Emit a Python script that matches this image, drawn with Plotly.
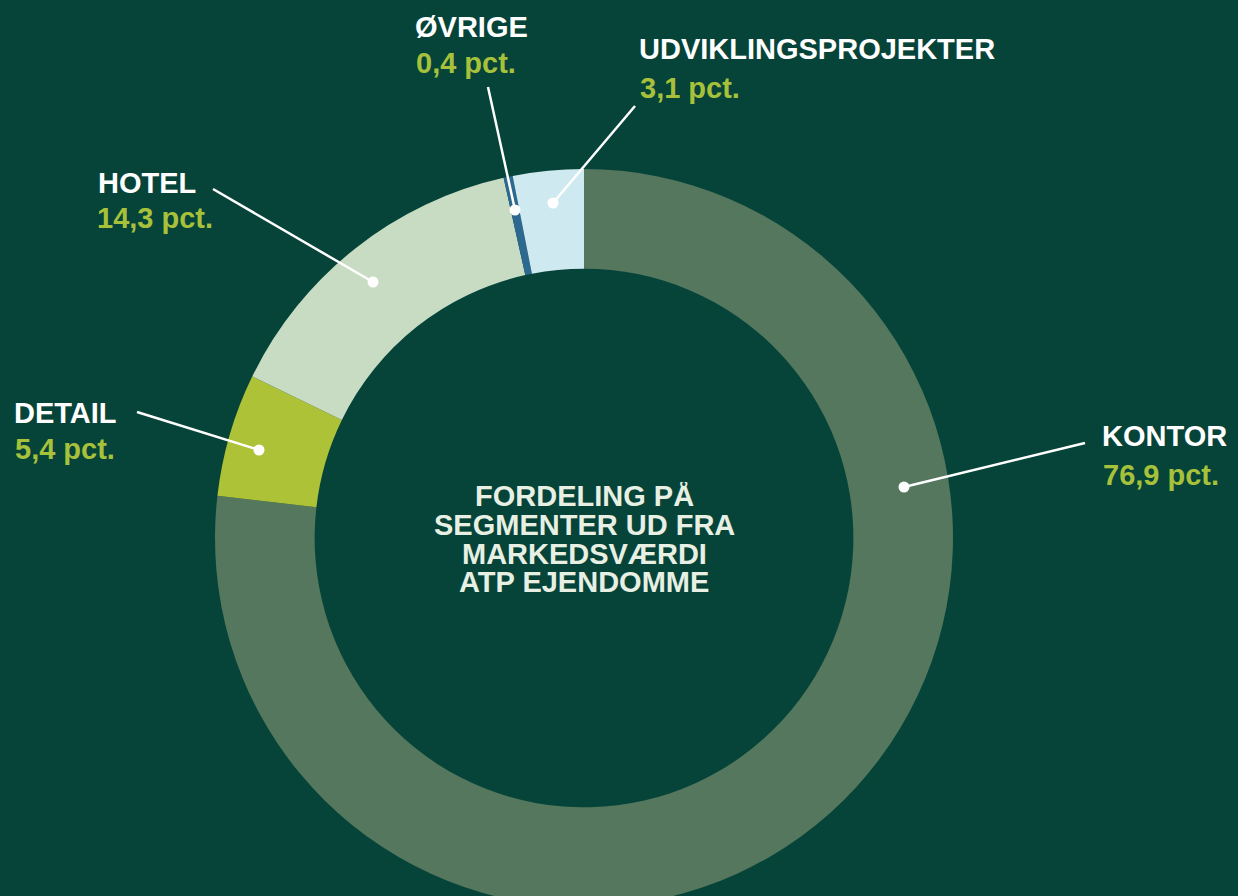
import plotly.graph_objects as go

# ---- data ----
segments = ["KONTOR", "DETAIL", "HOTEL", "ØVRIGE", "UDVIKLINGSPROJEKTER"]
shares = [76.9, 5.4, 14.3, 0.4, 3.1]
share_labels = ["76,9 pct.", "5,4 pct.", "14,3 pct.", "0,4 pct.", "3,1 pct."]
center_lines = ["FORDELING PÅ", "SEGMENTER UD FRA", "MARKEDSVÆRDI", "ATP EJENDOMME"]

# ---- style ----
BG = "#06443a"
colors = ["#54775d", "#adc237", "#c7dcc3", "#2d6890", "#cfe9f0"]
NAME_COL = "#ffffff"
VAL_COL = "#a7c13a"
CENTER_COL = "#e8f0e3"
FONT = "Liberation Sans, Arial, Helvetica, sans-serif"

W, H = 1238, 1076
cx, cy, R = 584, 538, 369

fig = go.Figure()
fig.add_trace(go.Pie(
    labels=segments, values=shares, sort=False, direction="clockwise", rotation=0,
    hole=0.73, marker=dict(colors=colors, line=dict(width=0)),
    textinfo="none", hoverinfo="label+percent", showlegend=False,
    domain=dict(x=[(cx - R) / W, (cx + R) / W], y=[(H - cy - R) / H, (H - cy + R) / H]),
))

# invisible pixel-space axes for labels and leader lines
fig.add_trace(go.Scatter(x=[0, W], y=[0, H], mode="markers", marker=dict(opacity=0),
                         hoverinfo="skip", showlegend=False))

# label placement (layout): name pos, value pos, line start, dot
label_pos = [
    ((1100, 436), (1101, 475), (1085, 443), (904, 487)),
    ((12, 413), (13, 449), (137, 412), (259, 450)),
    ((96, 183), (95, 218), (213, 189), (373, 282)),
    ((413, 27), (414, 63), (488, 87), (515, 210)),
    ((637, 49), (638, 88), (635, 106), (553, 203)),
]

shapes = []
annotations = []
for name, val, (npos, vpos, lstart, dot) in zip(segments, share_labels, label_pos):
    shapes.append(dict(type="line", xref="x", yref="y", x0=lstart[0], y0=lstart[1],
                       x1=dot[0], y1=dot[1], line=dict(color="white", width=2.5)))
    r = 5.5
    shapes.append(dict(type="circle", xref="x", yref="y", x0=dot[0] - r, y0=dot[1] - r,
                       x1=dot[0] + r, y1=dot[1] + r, fillcolor="white",
                       line=dict(width=0)))
    annotations.append(dict(x=npos[0], y=npos[1], xref="x", yref="y", text=name,
                            showarrow=False, xanchor="left", yanchor="middle",
                            font=dict(family=FONT, size=29, color=NAME_COL, weight="bold")))
    annotations.append(dict(x=vpos[0], y=vpos[1], xref="x", yref="y", text=val,
                            showarrow=False, xanchor="left", yanchor="middle",
                            font=dict(family=FONT, size=29, color=VAL_COL, weight="bold")))

center_y = [496, 525, 554, 582]
for line, yy in zip(center_lines, center_y):
    annotations.append(dict(x=cx, y=yy, xref="x", yref="y", text=line, showarrow=False,
                            xanchor="center", yanchor="middle", height=28, valign="middle",
                            borderpad=0,
                            font=dict(family=FONT, size=29, color=CENTER_COL, weight="bold")))

fig.update_layout(
    width=W, height=H, margin=dict(l=0, r=0, t=0, b=0),
    paper_bgcolor=BG, plot_bgcolor=BG,
    xaxis=dict(range=[0, W], visible=False, fixedrange=True),
    yaxis=dict(range=[H, 0], visible=False, fixedrange=True),
    shapes=shapes, annotations=annotations,
)

fig.write_html("out.html", post_script=(
    "document.documentElement.style.overflow='hidden';"
    "document.body.style.overflow='hidden';document.body.style.margin='0';"
))
